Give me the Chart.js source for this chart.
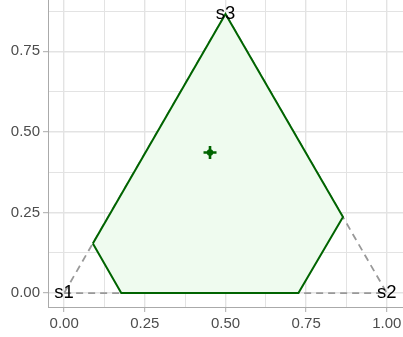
<!DOCTYPE html>
<html>
<head>
<meta charset="utf-8">
<script src="https://cdn.jsdelivr.net/npm/chart.js@4.4.1/dist/chart.umd.min.js"></script>
<style>
  html, body { margin: 0; padding: 0; background: #fff; }
  #wrap { width: 403px; height: 337px; }
</style>
</head>
<body>
<div id="wrap"><canvas id="chart"></canvas></div>
<script>
// simplex corners and their labels
const vertexLabels = ['s1', 's2', 's3'];
const vertexX = [0, 1, 0.5];
const vertexY = [0, 0, 0.866];

// feasible region polygon
const polyX = [0.089, 0.177, 0.726, 0.864, 0.5];
const polyY = [0.154, 0, 0, 0.236, 0.866];

// centre point
const centreX = [0.452];
const centreY = [0.436];

const xTicks = [0, 0.125, 0.25, 0.375, 0.5, 0.625, 0.75, 0.875, 1];
const yTicks = [0, 0.125, 0.25, 0.375, 0.5, 0.625, 0.75, 0.875];
const majorX = [0, 0.25, 0.5, 0.75, 1];
const majorY = [0, 0.25, 0.5, 0.75];

const toPts = (xs, ys) => xs.map((x, i) => ({ x: x, y: ys[i] }));
const closed = (pts) => pts.concat([pts[0]]);
const isMajor = (list, v) => list.some(m => Math.abs(m - v) < 1e-9);

// vertex labels and the centre marker are drawn here so the point size
// does not push the chart area inwards
const overlayPlugin = {
  id: 'overlay',
  afterDatasetsDraw(chart) {
    const ctx = chart.ctx;
    const xs = chart.scales.x, ys = chart.scales.y;
    ctx.save();

    ctx.strokeStyle = '#006400';
    ctx.fillStyle = '#006400';
    ctx.lineWidth = 2.6;
    centreX.forEach((cx, i) => {
      const px = xs.getPixelForValue(cx), py = ys.getPixelForValue(centreY[i]);
      ctx.beginPath();
      ctx.moveTo(px - 6.5, py); ctx.lineTo(px + 6.5, py);
      ctx.moveTo(px, py - 6.5); ctx.lineTo(px, py + 6.5);
      ctx.stroke();
      ctx.beginPath();
      ctx.arc(px, py, 3.2, 0, Math.PI * 2);
      ctx.fill();
    });

    ctx.font = '18.5px "Liberation Sans", Arial, sans-serif';
    ctx.fillStyle = '#000';
    ctx.textAlign = 'center';
    ctx.textBaseline = 'middle';
    vertexLabels.forEach((lab, i) => {
      ctx.fillText(lab, xs.getPixelForValue(vertexX[i]), ys.getPixelForValue(vertexY[i]));
    });
    ctx.restore();
  }
};

new Chart(document.getElementById('chart'), {
  type: 'scatter',
  data: {
    datasets: [
      {
        data: closed(toPts(polyX, polyY)),
        showLine: true,
        fill: 'shape',
        backgroundColor: '#effbef',
        borderColor: '#006400',
        borderWidth: 2,
        pointRadius: 0,
        pointBorderWidth: 0,
        order: 1
      },
      {
        data: closed(toPts(vertexX, vertexY)),
        showLine: true,
        borderColor: '#999999',
        borderWidth: 1.8,
        borderDash: [7, 5],
        pointRadius: 0,
        pointBorderWidth: 0,
        order: 2
      }
    ]
  },
  options: {
    responsive: true,
    maintainAspectRatio: false,
    animation: false,
    events: [],
    layout: { padding: 0 },
    plugins: { legend: { display: false }, tooltip: { enabled: false } },
    scales: {
      x: {
        type: 'linear',
        min: -0.05,
        max: 1.05,
        afterBuildTicks: (s) => { s.ticks = xTicks.map(v => ({ value: v })); },
        afterFit: (s) => { s.height = 30; s.paddingLeft = 0; s.paddingRight = 0; },
        ticks: {
          autoSkip: false,
          maxRotation: 0,
          padding: 3,
          color: '#4d4d4d',
          font: { family: '"Liberation Sans", Arial, sans-serif', size: 15 },
          callback: (v) => isMajor(majorX, v) ? v.toFixed(2) : ''
        },
        grid: {
          color: '#e3e3e3',
          lineWidth: (c) => c.tick && isMajor(majorX, c.tick.value) ? 1.4 : 1,
          tickColor: (c) => c.tick && isMajor(majorX, c.tick.value) ? '#aaaaaa' : 'rgba(0,0,0,0)',
          tickLength: 5,
          tickWidth: 1
        },
        border: { display: true, color: '#aaaaaa', width: 1 }
      },
      y: {
        type: 'linear',
        min: -0.0433,
        max: 0.9093,
        afterBuildTicks: (s) => { s.ticks = yTicks.map(v => ({ value: v })); },
        afterFit: (s) => { s.width = 48; s.paddingTop = 0; s.paddingBottom = 0; },
        ticks: {
          autoSkip: false,
          padding: 3,
          color: '#4d4d4d',
          font: { family: '"Liberation Sans", Arial, sans-serif', size: 15 },
          callback: (v) => isMajor(majorY, v) ? v.toFixed(2) : ''
        },
        grid: {
          color: '#e3e3e3',
          lineWidth: (c) => c.tick && isMajor(majorY, c.tick.value) ? 1.4 : 1,
          tickColor: (c) => c.tick && isMajor(majorY, c.tick.value) ? '#aaaaaa' : 'rgba(0,0,0,0)',
          tickLength: 5,
          tickWidth: 1
        },
        border: { display: true, color: '#aaaaaa', width: 1 }
      }
    }
  },
  plugins: [overlayPlugin]
});
</script>
</body>
</html>
